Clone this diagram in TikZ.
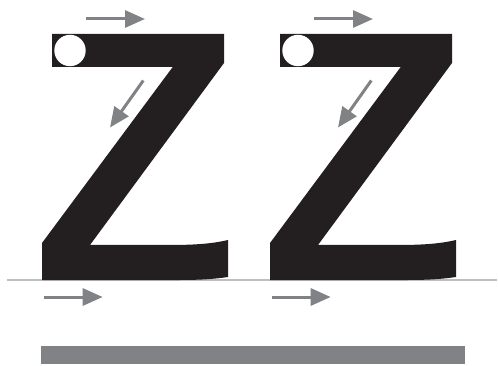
\documentclass[tikz,border=0pt]{standalone}
\usetikzlibrary{arrows.meta}
\definecolor{zblack}{HTML}{231F20}
\definecolor{arrowgray}{HTML}{808285}
\definecolor{linegray}{HTML}{BCBEC0}
\begin{document}
\begin{tikzpicture}[x=1pt, y=-1pt,
    guide/.style={draw=arrowgray, line width=3pt, -{Triangle[length=20pt, width=17pt]}}]
        \useasboundingbox (0,0) rectangle (498,366);

        \draw[linegray, line width=2pt] (7,279.5) -- (497,279.5);
        \fill[arrowgray] (41,346) rectangle (465,364);

        \foreach \dx in {0,228} {
        \begin{scope}[xshift=\dx pt]
        \fill[zblack] (52,34) -- (224,34) -- (224,63) -- (90,245) -- (170,245)
            .. controls (200,245) and (215,243) .. (228,240) -- (228,277)
            .. controls (215,279) and (200,280) .. (180,280) -- (42,280) -- (42,243)
            -- (172.7,67) -- (52,67) -- cycle;
        \fill[white] (70,50.5) circle (15.7pt);

        \draw[guide] (86,19) -- (145,19);
        \draw[guide] (143.3,80.5) -- (110,127.5);
        \draw[guide] (44.3,297) -- (102.7,297);
        \end{scope}
        }
    \end{tikzpicture}
\end{document}
